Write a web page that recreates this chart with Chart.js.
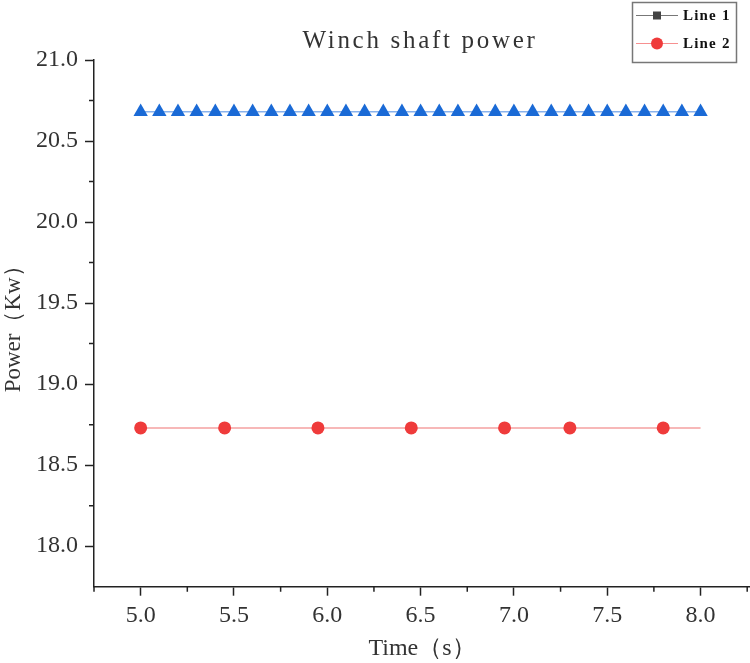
<!DOCTYPE html>
<html>
<head>
<meta charset="utf-8">
<script src="https://cdn.jsdelivr.net/npm/chart.js@4.4.1/dist/chart.umd.min.js"></script>
<style>
  html, body { margin: 0; padding: 0; background: #fff; }
  #wrap { width: 750px; height: 663px; position: relative; }
</style>
</head>
<body>
<div id="wrap"><canvas id="chart"></canvas></div>
<script>
// Данные графика
const chartTitle = 'Winch shaft power';
const xTitle = 'Time（s）';
const yTitle = 'Power（Kw）';

const line1Time = [5.0, 5.1, 5.2, 5.3, 5.4, 5.5, 5.6, 5.7, 5.8, 5.9, 6.0, 6.1, 6.2, 6.3, 6.4, 6.5,
                   6.6, 6.7, 6.8, 6.9, 7.0, 7.1, 7.2, 7.3, 7.4, 7.5, 7.6, 7.7, 7.8, 7.9, 8.0];
const line1Power = [20.68, 20.68, 20.68, 20.68, 20.68, 20.68, 20.68, 20.68, 20.68, 20.68, 20.68,
                    20.68, 20.68, 20.68, 20.68, 20.68, 20.68, 20.68, 20.68, 20.68, 20.68, 20.68,
                    20.68, 20.68, 20.68, 20.68, 20.68, 20.68, 20.68, 20.68, 20.68];

const line2Time = [5.0, 5.45, 5.95, 6.45, 6.95, 7.3, 7.8, 8.0];
const line2Power = [18.73, 18.73, 18.73, 18.73, 18.73, 18.73, 18.73, 18.73];

const xTickValues = [5.0, 5.5, 6.0, 6.5, 7.0, 7.5, 8.0];
const yTickValues = [18.0, 18.5, 19.0, 19.5, 20.0, 20.5, 21.0];

const FONT = '"Liberation Serif", "Times New Roman", serif';

// Малые деления осей
const minorTicks = {
    id: 'minorTicks',
    afterDraw(chart) {
        const ctx = chart.ctx;
        const x = chart.scales.x, y = chart.scales.y;
        const area = chart.chartArea;
        ctx.save();
        ctx.strokeStyle = '#222';
        ctx.lineWidth = 1.5;
        ctx.beginPath();
        for (let v = 4.75; v <= x.max + 1e-6; v += 0.5) {
            const px = x.getPixelForValue(v);
            ctx.moveTo(px, area.bottom);
            ctx.lineTo(px, area.bottom + 5);
        }
        for (let v = 18.25; v < y.max; v += 0.5) {
            const py = y.getPixelForValue(v);
            ctx.moveTo(area.left, py);
            ctx.lineTo(area.left - 5, py);
        }
        ctx.stroke();
        ctx.restore();
    }
};

// Заголовок с разрядкой букв
const spacedTitle = {
    id: 'spacedTitle',
    afterDraw(chart) {
        const ctx = chart.ctx;
        const area = chart.chartArea;
        ctx.save();
        ctx.font = '25px ' + FONT;
        ctx.letterSpacing = '2.7px';
        ctx.fillStyle = '#333';
        ctx.textAlign = 'center';
        ctx.textBaseline = 'middle';
        ctx.fillText(chartTitle, (area.left + area.right) / 2 - 2, 41);
        ctx.restore();
    }
};

// Легенда в правом верхнем углу
const boxLegend = {
    id: 'boxLegend',
    afterDraw(chart) {
        const ctx = chart.ctx;
        const ds = chart.data.datasets;
        ctx.save();
        ctx.fillStyle = '#fff';
        ctx.fillRect(632, 2, 105, 61);
        ctx.strokeStyle = '#777';
        ctx.lineWidth = 1.5;
        ctx.strokeRect(632.5, 2.5, 104, 60);

        // Line 1
        ctx.strokeStyle = '#777';
        ctx.lineWidth = 1;
        ctx.beginPath();
        ctx.moveTo(636, 15.5);
        ctx.lineTo(678, 15.5);
        ctx.stroke();
        ctx.fillStyle = '#444';
        ctx.fillRect(653, 11.5, 8, 8);

        // Line 2
        ctx.strokeStyle = '#f79090';
        ctx.beginPath();
        ctx.moveTo(636, 43.5);
        ctx.lineTo(678, 43.5);
        ctx.stroke();
        ctx.fillStyle = '#ef3b3b';
        ctx.beginPath();
        ctx.arc(657, 43.5, 6, 0, Math.PI * 2);
        ctx.fill();

        ctx.font = 'bold 15px ' + FONT;
        ctx.letterSpacing = '1.2px';
        ctx.fillStyle = '#111';
        ctx.textAlign = 'left';
        ctx.textBaseline = 'middle';
        ctx.fillText(ds[0].label, 683, 16);
        ctx.fillText(ds[1].label, 683, 44);
        ctx.restore();
    }
};

const canvas = document.getElementById('chart');
canvas.chart = new Chart(canvas, {
    type: 'line',
    data: {
        datasets: [
            {
                label: 'Line 1',
                data: line1Time.map((t, i) => ({ x: t, y: line1Power[i] })),
                borderColor: 'rgba(40,115,220,0.55)',
                borderWidth: 1.5,
                pointStyle: 'triangle',
                pointRadius: 8.3,
                pointBorderWidth: 0,
                pointBackgroundColor: '#1a6ad6'
            },
            {
                label: 'Line 2',
                data: line2Time.map((t, i) => ({ x: t, y: line2Power[i] })),
                borderColor: '#f4a0a0',
                borderWidth: 1.5,
                pointStyle: 'circle',
                pointRadius: [6.5, 6.5, 6.5, 6.5, 6.5, 6.5, 6.5, 0],
                pointBorderWidth: 0,
                pointBackgroundColor: '#ef3b3b'
            }
        ]
    },
    options: {
        responsive: true,
        maintainAspectRatio: false,
        animation: false,
        layout: { autoPadding: false, padding: { top: 60, right: 0, bottom: 0, left: 0 } },
        plugins: {
            legend: { display: false },
            title: { display: false },
            tooltip: { enabled: false }
        },
        scales: {
            x: {
                type: 'linear',
                min: 4.75,
                max: 8.265,
                afterBuildTicks(scale) {
                    scale.ticks = xTickValues.map(v => ({ value: v }));
                },
                afterFit(scale) {
                    scale.height = 76.3;
                    scale.paddingLeft = 0;
                    scale.paddingRight = 0;
                },
                ticks: {
                    font: { family: FONT, size: 24 },
                    color: '#333',
                    padding: 6,
                    maxRotation: 0,
                    callback: v => v.toFixed(1)
                },
                grid: {
                    drawOnChartArea: false,
                    drawTicks: true,
                    tickLength: 9,
                    tickWidth: 1.5,
                    tickColor: '#222'
                },
                border: { display: true, color: '#222', width: 1.5 },
                title: {
                    display: true,
                    text: xTitle,
                    font: { family: FONT, size: 24 },
                    color: '#333',
                    padding: { top: 0, bottom: 0 }
                }
            },
            y: {
                type: 'linear',
                min: 17.75,
                max: 21.0,
                afterBuildTicks(scale) {
                    scale.ticks = yTickValues.map(v => ({ value: v }));
                },
                afterFit(scale) {
                    scale.width = 94;
                },
                ticks: {
                    font: { family: FONT, size: 24 },
                    color: '#333',
                    padding: 7,
                    callback: v => v.toFixed(1)
                },
                grid: {
                    drawOnChartArea: false,
                    drawTicks: true,
                    tickLength: 9,
                    tickWidth: 1.5,
                    tickColor: '#222'
                },
                border: { display: true, color: '#222', width: 1.5 },
                title: {
                    display: true,
                    text: yTitle,
                    font: { family: FONT, size: 23 },
                    color: '#333',
                    padding: { top: 0, bottom: 0 }
                }
            }
        }
    },
    plugins: [minorTicks, spacedTitle, boxLegend]
});
</script>
</body>
</html>
